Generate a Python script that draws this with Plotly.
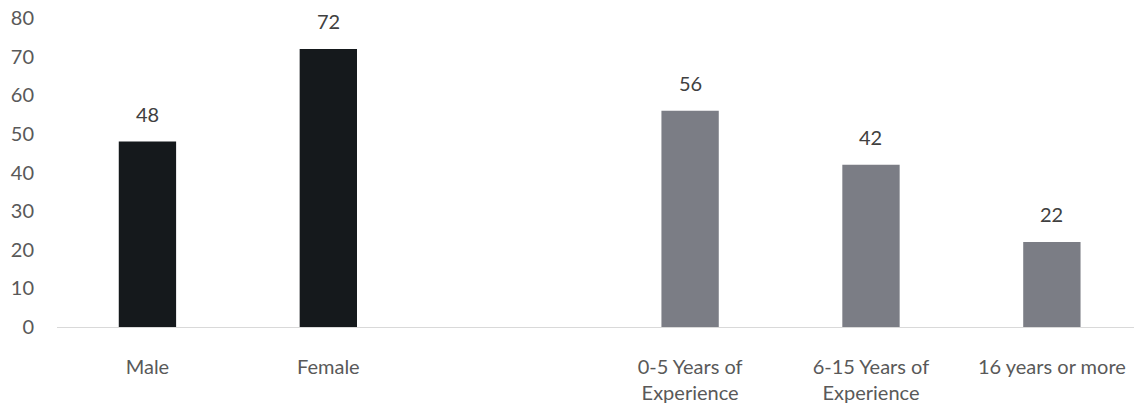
import plotly.graph_objects as go

categories = ["Male", "Female", " ", "0-5 Years of<br>Experience", "6-15 Years of<br>Experience", "16 years or more"]
values = [48, 72, None, 56, 42, 22]
colors = ["#15191c", "#15191c", "#ffffff", "#7b7d85", "#7b7d85", "#7b7d85"]
y_ticks = [0, 10, 20, 30, 40, 50, 60, 70, 80]

FONT = "Lato, Carlito, Calibri, sans-serif"

fig = go.Figure()
fig.add_trace(go.Bar(
    x=categories, y=values, marker=dict(color=colors, line=dict(width=0)),
    hoverinfo="x+y",
))

for c, v in zip(categories, values):
    if v is None:
        continue
    fig.add_annotation(x=c, y=v, text=str(v), showarrow=False,
                       yanchor="bottom", yshift=14,
                       font=dict(family=FONT, size=20, color="#404040"))

fig.update_layout(
    width=1134, height=410,
    margin=dict(l=57, r=0, t=18, b=83),
    paper_bgcolor="white", plot_bgcolor="white",
    bargap=0.683,
    showlegend=False,
    font=dict(family=FONT, size=20, color="#595959"),
)
fig.update_xaxes(
    type="category", categoryorder="array", categoryarray=categories,
    range=[-0.5, 5.454],
    showline=True, linecolor="#d9d9d9", linewidth=1,
    showgrid=False, ticks="", ticklabelstandoff=22,
    tickfont=dict(family=FONT, size=20, color="#595959"),
    zeroline=False,
)
fig.update_yaxes(
    range=[0, 80], tickvals=y_ticks, showgrid=False, zeroline=False,
    showline=False, ticks="", ticklabelstandoff=22,
    tickfont=dict(family=FONT, size=20, color="#595959"),
)

fig.write_html("out.html")
